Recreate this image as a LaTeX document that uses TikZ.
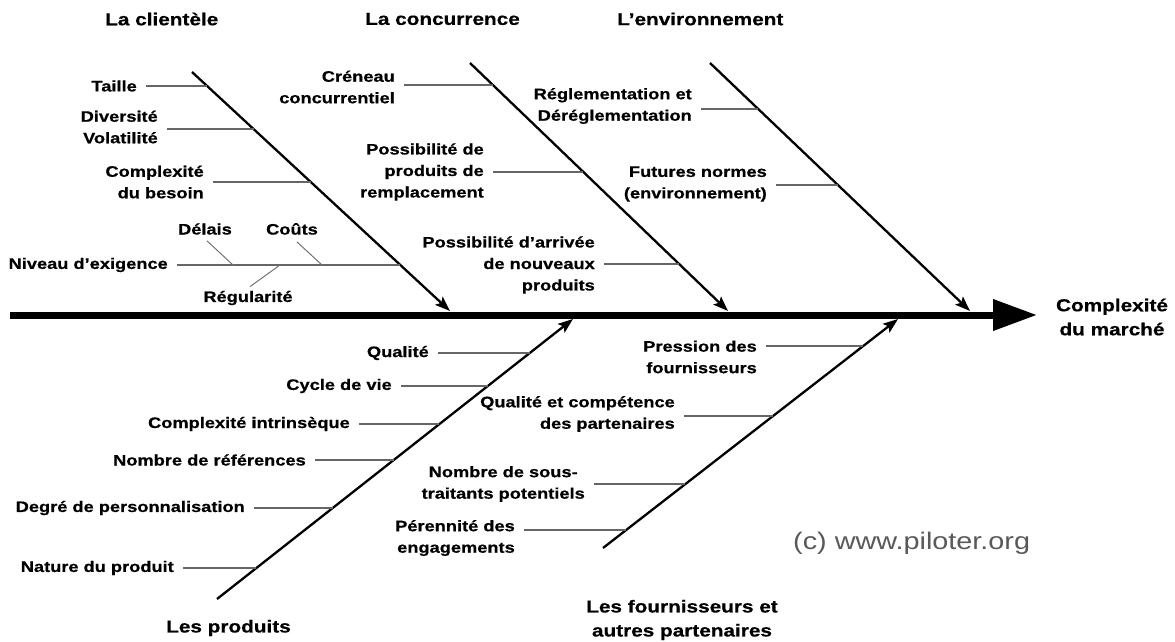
\documentclass[tikz,border=0pt]{standalone}
\usepackage{fontspec}
\setmainfont{Liberation Sans}[FakeStretch=1.2, BoldFeatures={FakeBold=0.6}]
\usetikzlibrary{arrows.meta}

\tikzset{
  bone/.style={line width=2.3pt, -{Stealth[length=15pt,width=11pt,inset=3pt]}},
  spine/.style={line width=7pt, -{Triangle[length=44pt,width=30pt]}},
  leader/.style={line width=1.4pt, draw=black!60, shorten <=9pt},
  tick/.style={line width=1pt, draw=black!55},
  cause/.style={font=\fontsize{15.2}{21.5}\selectfont\bfseries, inner sep=0pt, align=right, anchor=east},
  family/.style={font=\fontsize{17.3}{24}\selectfont\bfseries, inner sep=0pt, align=center},
}

\begin{document}
\begin{tikzpicture}[x=1pt,y=-1pt]
		%%%%% START %%%%%
		\fill[white] (0,0) rectangle (1175,642);
		\useasboundingbox (0,0) rectangle (1175,642);
		
		% arete centrale
		\coordinate (s0) at (10,315);
		\coordinate (s1) at (1037,315);
		\draw[spine] (s0) -- (s1);
		\node[family] (marche) at (1112,317) {Complexit\'e\\du march\'e};
		
		% aretes
		\coordinate (b1s) at (192,72);  \coordinate (b1e) at (450,311);
		\coordinate (b2s) at (470,63);  \coordinate (b2e) at (728,311);
		\coordinate (b3s) at (710,63);  \coordinate (b3e) at (970,311);
		\coordinate (b4s) at (217,599); \coordinate (b4e) at (573,319);
		\coordinate (b5s) at (603,548); \coordinate (b5e) at (898,319);
		\draw[bone] (b1s) -- (b1e);
		\draw[bone] (b2s) -- (b2e);
		\draw[bone] (b3s) -- (b3e);
		\draw[bone] (b4s) -- (b4e);
		\draw[bone] (b5s) -- (b5e);
		
		% familles
		\node[family, anchor=west] (clientele) at (105,19) {La client\`ele};
		\node[family, anchor=west] (concurrence) at (365,19) {La concurrence};
		\node[family, anchor=west] (environ) at (617,19) {L'environnement};
		\node[family, anchor=west] (produits) at (166,628) {Les produits};
		\node[family] (fournis) at (682,620) {Les fournisseurs et\\autres partenaires};
		
		% la clientele
		\node[cause] (taille) at (137,86) {Taille};
		\node[cause] (divers) at (158,127) {Diversit\'e\\Volatilit\'e};
		\node[cause] (besoin) at (204,182) {Complexit\'e\\du besoin};
		\node[cause] (niveau) at (168,265) {Niveau d'exigence};
		\coordinate (l1) at (207,86);
		\coordinate (l2) at (254,129);
		\coordinate (l3) at (311,182);
		\coordinate (l4) at (400,265);
		\draw[leader] (taille.east |- l1) -- (l1);
		\draw[leader] (divers.east |- l2) -- (l2);
		\draw[leader] (besoin.east |- l3) -- (l3);
		\draw[leader] (niveau.east |- l4) -- (l4);
		
		\node[cause, anchor=center] (delais) at (205,229) {D\'elais};
		\node[cause, anchor=center] (couts) at (292,229) {Co\^uts};
		\node[cause, anchor=center] (regul) at (248,298) {R\'egularit\'e};
		\coordinate (t1) at (233,265);
		\coordinate (t2) at (322,265);
		\coordinate (t3) at (280,265);
		\draw[tick] ([shift={(2,6)}]delais.south) -- (t1);
		\draw[tick] ([shift={(5,7)}]couts.south) -- (t2);
		\draw[tick] ([shift={(2,-4)}]regul.north) -- (t3);
		
		% la concurrence
		\node[cause] (creneau) at (395,87) {Cr\'eneau\\concurrentiel};
		\node[cause] (remplac) at (484,172) {Possibilit\'e de\\produits de\\remplacement};
		\node[cause] (arrivee) at (595,265) {Possibilit\'e d'arriv\'ee\\de nouveaux\\produits};
		\coordinate (c1) at (493,85);
		\coordinate (c2) at (583,172);
		\coordinate (c3) at (679,264);
		\draw[leader] (creneau.east |- c1) -- (c1);
		\draw[leader] (remplac.east |- c2) -- (c2);
		\draw[leader] (arrivee.east |- c3) -- (c3);
		
		% l'environnement
		\node[cause] (reglem) at (692,106) {R\'eglementation et\\D\'er\'eglementation};
		\node[cause] (normes) at (767,184) {Futures normes\\(environnement)};
		\coordinate (e1) at (758,109);
		\coordinate (e2) at (838,185);
		\draw[leader] (reglem.east |- e1) -- (e1);
		\draw[leader] (normes.east |- e2) -- (e2);
		
		% les produits
		\node[cause] (qualite) at (429,353) {Qualit\'e};
		\node[cause] (cycle) at (392,386) {Cycle de vie};
		\node[cause] (intrins) at (350,424) {Complexit\'e intrins\`eque};
		\node[cause] (refs) at (306,460) {Nombre de r\'ef\'erences};
		\node[cause] (perso) at (245,508) {Degr\'e de personnalisation};
		\node[cause] (nature) at (174,568) {Nature du produit};
		\coordinate (p1) at (530,353);
		\coordinate (p2) at (488,386);
		\coordinate (p3) at (439,424);
		\coordinate (p4) at (394,460);
		\coordinate (p5) at (333,508);
		\coordinate (p6) at (256,568);
		\draw[leader] (qualite.east |- p1) -- (p1);
		\draw[leader] (cycle.east |- p2) -- (p2);
		\draw[leader] (intrins.east |- p3) -- (p3);
		\draw[leader] (refs.east |- p4) -- (p4);
		\draw[leader] (perso.east |- p5) -- (p5);
		\draw[leader] (nature.east |- p6) -- (p6);
		
		% les fournisseurs
		\node[cause] (pression) at (757,357) {Pression des\\fournisseurs};
		\node[cause] (partenai) at (675,414) {Qualit\'e et comp\'etence\\des partenaires};
		\node[cause, align=center] (soustrait) at (585,484) {Nombre de sous-\\traitants potentiels};
		\node[cause] (perenn) at (515,538) {P\'erennit\'e des\\engagements};
		\coordinate (f1) at (863,346);
		\coordinate (f2) at (773,416);
		\coordinate (f3) at (685,484);
		\coordinate (f4) at (626,530);
		\draw[leader] (pression.east |- f1) -- (f1);
		\draw[leader] (partenai.east |- f2) -- (f2);
		\draw[leader] (soustrait.east |- f3) -- (f3);
		\draw[leader] (perenn.east |- f4) -- (f4);
		
		\node[anchor=west, inner sep=0pt, text=black!65, font=\fontsize{24}{28}\selectfont] (copyr) at (793,543) {(c) www.piloter.org};
		
		%%%%% END %%%%%
\end{tikzpicture}
\end{document}
